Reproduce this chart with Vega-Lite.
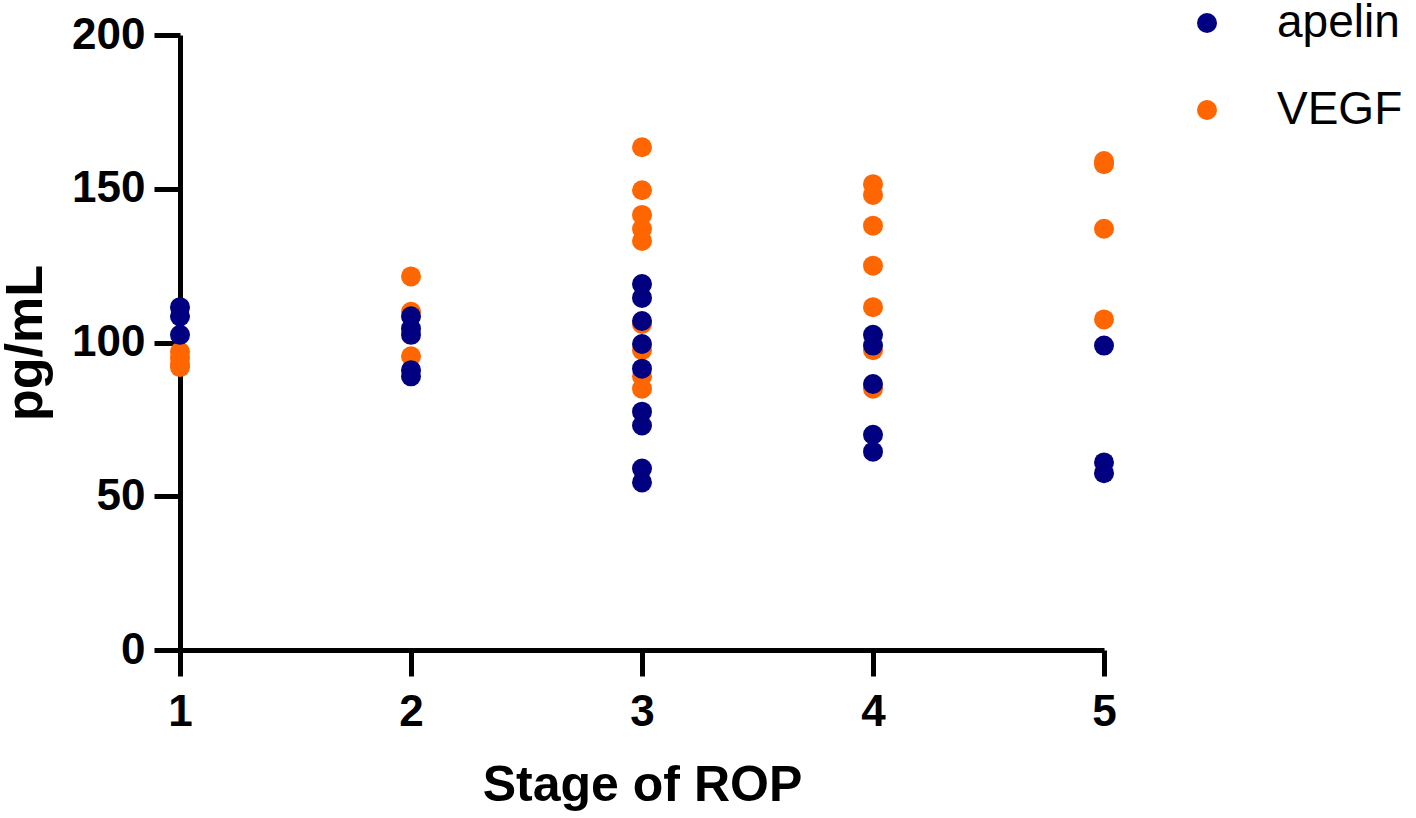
{
  "$schema": "https://vega.github.io/schema/vega-lite/v6.json",
  "autosize": "none",
  "width": 924,
  "height": 615,
  "padding": {"left": 180, "top": 35, "right": 312, "bottom": 168},
  "background": "white",
  "config": {
    "view": {"stroke": null},
    "font": "Liberation Sans"
  },
  "data": {
    "values": [
      {"stage": 1, "group": "VEGF", "value": 97},
      {"stage": 1, "group": "VEGF", "value": 95},
      {"stage": 1, "group": "VEGF", "value": 93},
      {"stage": 1, "group": "VEGF", "value": 92},
      {"stage": 2, "group": "VEGF", "value": 121.5},
      {"stage": 2, "group": "VEGF", "value": 110},
      {"stage": 2, "group": "VEGF", "value": 95.5},
      {"stage": 3, "group": "VEGF", "value": 163.5},
      {"stage": 3, "group": "VEGF", "value": 149.5},
      {"stage": 3, "group": "VEGF", "value": 141.5},
      {"stage": 3, "group": "VEGF", "value": 137},
      {"stage": 3, "group": "VEGF", "value": 133},
      {"stage": 3, "group": "VEGF", "value": 106},
      {"stage": 3, "group": "VEGF", "value": 97.5},
      {"stage": 3, "group": "VEGF", "value": 89},
      {"stage": 3, "group": "VEGF", "value": 85},
      {"stage": 4, "group": "VEGF", "value": 151.5},
      {"stage": 4, "group": "VEGF", "value": 148},
      {"stage": 4, "group": "VEGF", "value": 138},
      {"stage": 4, "group": "VEGF", "value": 125},
      {"stage": 4, "group": "VEGF", "value": 111.5},
      {"stage": 4, "group": "VEGF", "value": 97.5},
      {"stage": 4, "group": "VEGF", "value": 85},
      {"stage": 5, "group": "VEGF", "value": 159},
      {"stage": 5, "group": "VEGF", "value": 158},
      {"stage": 5, "group": "VEGF", "value": 137},
      {"stage": 5, "group": "VEGF", "value": 107.5},
      {"stage": 1, "group": "apelin", "value": 111.5},
      {"stage": 1, "group": "apelin", "value": 108.5},
      {"stage": 1, "group": "apelin", "value": 102.5},
      {"stage": 2, "group": "apelin", "value": 108.5},
      {"stage": 2, "group": "apelin", "value": 104.5},
      {"stage": 2, "group": "apelin", "value": 102.5},
      {"stage": 2, "group": "apelin", "value": 91},
      {"stage": 2, "group": "apelin", "value": 89},
      {"stage": 3, "group": "apelin", "value": 119},
      {"stage": 3, "group": "apelin", "value": 114.5},
      {"stage": 3, "group": "apelin", "value": 107},
      {"stage": 3, "group": "apelin", "value": 99.5},
      {"stage": 3, "group": "apelin", "value": 91.5},
      {"stage": 3, "group": "apelin", "value": 77.5},
      {"stage": 3, "group": "apelin", "value": 73},
      {"stage": 3, "group": "apelin", "value": 59},
      {"stage": 3, "group": "apelin", "value": 54.5},
      {"stage": 4, "group": "apelin", "value": 102.5},
      {"stage": 4, "group": "apelin", "value": 99},
      {"stage": 4, "group": "apelin", "value": 86.5},
      {"stage": 4, "group": "apelin", "value": 70},
      {"stage": 4, "group": "apelin", "value": 64.5},
      {"stage": 5, "group": "apelin", "value": 99},
      {"stage": 5, "group": "apelin", "value": 61},
      {"stage": 5, "group": "apelin", "value": 57.5}
    ]
  },
  "mark": {"type": "point", "filled": true, "opacity": 1, "size": 400, "shape": "circle"},
  "encoding": {
    "x": {
      "field": "stage", "type": "quantitative",
      "scale": {"domain": [1, 5], "nice": false, "zero": false},
      "axis": {
        "title": "Stage of ROP", "values": [1, 2, 3, 4, 5], "format": "d", "grid": false, "labelFlush": false,
        "domainColor": "black", "domainWidth": 5, "tickColor": "black", "tickWidth": 5, "tickSize": 26,
        "labelFont": "Liberation Sans", "labelFontWeight": "bold", "labelFontSize": 44, "labelColor": "black", "labelPadding": 14,
        "titleFont": "Liberation Sans", "titleFontWeight": "bold", "titleFontSize": 50, "titleColor": "black", "titlePadding": 26
      }
    },
    "y": {
      "field": "value", "type": "quantitative",
      "scale": {"domain": [0, 200], "nice": false},
      "axis": {
        "title": "pg/mL", "values": [0, 50, 100, 150, 200], "grid": false,
        "domainColor": "black", "domainWidth": 5, "tickColor": "black", "tickWidth": 5, "tickSize": 26,
        "labelFont": "Liberation Sans", "labelFontWeight": "bold", "labelFontSize": 44, "labelColor": "black", "labelPadding": 9,
        "titleFont": "Liberation Sans", "titleFontWeight": "bold", "titleFontSize": 52, "titleColor": "black", "titlePadding": 19
      }
    },
    "color": {
      "field": "group", "type": "nominal",
      "scale": {"domain": ["apelin", "VEGF"], "range": ["#000080", "#ff6600"]},
      "legend": {
        "title": null, "orient": "none", "legendX": 1004, "legendY": -35, "padding": 0,
        "symbolType": "circle", "symbolSize": 400, "symbolStrokeWidth": 0, "symbolOpacity": 1,
        "labelFont": "Liberation Sans", "labelFontSize": 46, "labelColor": "black", "labelOffset": 47,
        "rowPadding": 41
      }
    }
  }
}
